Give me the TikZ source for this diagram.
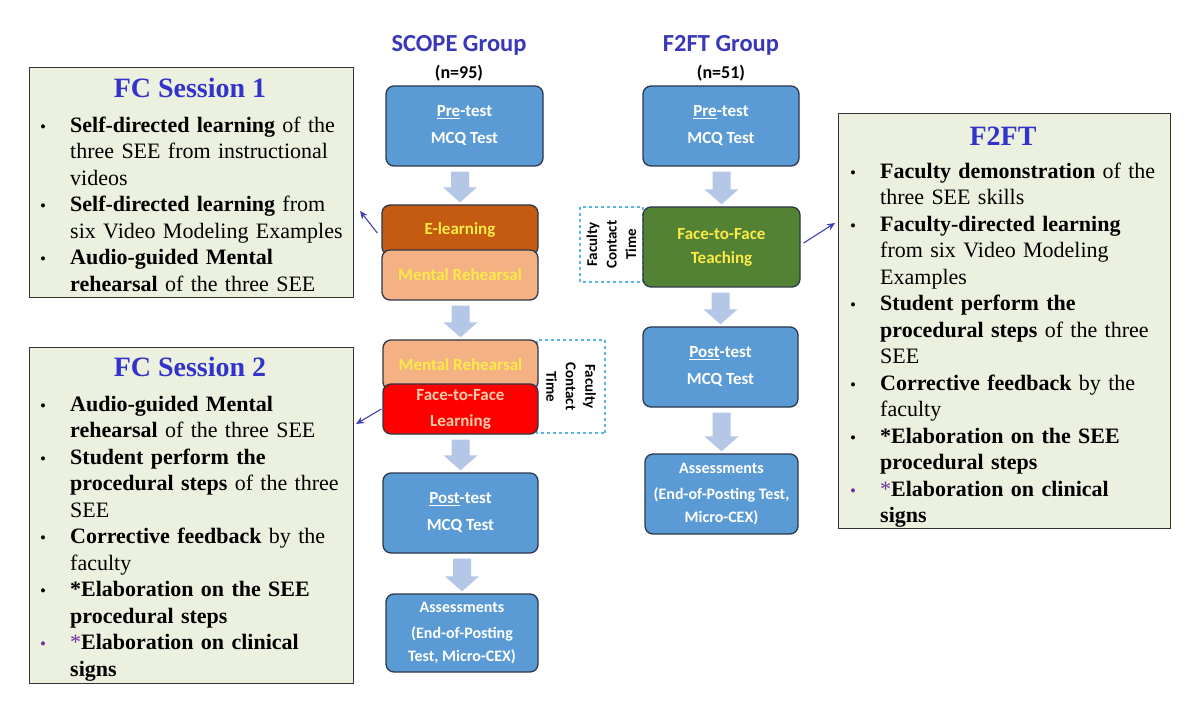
\documentclass[tikz,border=0pt]{standalone}
\usepackage{fontspec}
\setmainfont{Liberation Serif}
\newfontfamily\calfont{Carlito}
\usetikzlibrary{calc,arrows.meta}
\definecolor{boxblue}{RGB}{91,155,213}
\definecolor{boxedge}{RGB}{45,55,75}
\definecolor{arrowblue}{RGB}{180,199,231}
\definecolor{elearn}{RGB}{197,90,17}
\definecolor{peach}{RGB}{244,177,131}
\definecolor{ffred}{RGB}{255,0,0}
\definecolor{ffgreen}{RGB}{84,130,53}
\definecolor{listgreen}{RGB}{235,241,222}
\definecolor{titleblue}{RGB}{51,51,204}
\definecolor{grouptitle}{RGB}{56,56,184}
\definecolor{dashblue}{RGB}{91,180,230}
\definecolor{connblue}{RGB}{64,64,184}
\definecolor{txtyellow}{RGB}{250,235,70}
\definecolor{txtpeach}{RGB}{250,205,170}
\definecolor{purp}{RGB}{112,48,160}
\newcommand\bitem[2][black]{\par\noindent\hangindent=31pt\hangafter=1\makebox[31pt][l]{\hspace{1pt}\textcolor{#1}{\fontsize{17}{17}\selectfont\textbullet}}#2}
\newcommand\blockarrow[2]{\fill[arrowblue] let \p1=(#1.south), \p2=(#2.north) in
  (\x2-9pt,\y1-5pt) -- (\x2+9pt,\y1-5pt) -- (\x2+9pt,\y2+17pt) -- (\x2+17pt,\y2+17pt)
  -- (\x2,\y2+2pt) -- (\x2-17pt,\y2+17pt) -- (\x2-9pt,\y2+17pt) -- cycle;}
\tikzset{
  flowbox/.style={draw=boxedge, line width=1.3pt, rounded corners=8pt, inner sep=0pt,
    align=center, text=white, fill=boxblue, minimum width=156pt, minimum height=80pt,
    font=\calfont\bfseries\fontsize{17}{27}\selectfont},
  layerbox/.style={flowbox, minimum height=50pt, text=txtyellow},
  assbox/.style={flowbox, font=\calfont\bfseries\fontsize{16}{23}\selectfont},
  dashbox/.style={draw=dashblue, dashed, line width=1.2pt, inner sep=0pt, align=center,
    font=\calfont\bfseries\fontsize{15}{19.5}\selectfont},
  grouptitle/.style={anchor=base, text=grouptitle, font=\calfont\bfseries\fontsize{24.5}{28}\selectfont},
  groupn/.style={anchor=base, font=\calfont\bfseries\fontsize{18}{22}\selectfont},
  listbox/.style={draw=black!80, line width=1.4pt, fill=listgreen, inner sep=0pt, anchor=north west},
  listtitle/.style={anchor=base, text=titleblue, font=\bfseries\fontsize{28}{32}\selectfont},
  listbody/.style={anchor=north west, inner sep=0pt, text width=320pt, align=left,
    font=\fontsize{22}{26.5}\selectfont},
  conn/.style={-{Stealth[length=8pt,width=7pt]}, draw=connblue, line width=1.1pt}
}
\begin{document}
\begin{tikzpicture}[x=1pt,y=-1pt]
\useasboundingbox (0,0) rectangle (1200,711);
\fill[white] (0,0) rectangle (1200,711);

% group titles
\node[grouptitle] (sg) at (459,52) {SCOPE Group};
\node[groupn] (sn) at (459,79) {(n=95)};
\node[grouptitle] (fg) at (721,52) {F2FT Group};
\node[groupn] (fn) at (721,79) {(n=51)};

% dashed faculty contact boxes
\node[dashbox, rotate=-90, minimum width=93pt, minimum height=68pt] (sdash) at (571,386.5) {Faculty\\Contact\\Time};
\node[dashbox, rotate=90, minimum width=75pt, minimum height=63pt] (fdash) at (611.5,244.5) {Faculty\\Contact\\Time};

% SCOPE column
\node[flowbox, minimum width=157pt] (spre) at (464.5,126) {\underline{Pre}-test\\MCQ Test};
\node[layerbox, fill=elearn] (el) at (460,230) {E-learning};
\node[layerbox, fill=peach] (mr1) at (460,275) {Mental Rehearsal};
\node[layerbox, fill=peach, minimum width=155pt] (mr2) at (460.5,365) {Mental Rehearsal};
\node[layerbox, fill=ffred, minimum width=155pt, text=txtpeach, font=\calfont\bfseries\fontsize{17}{26}\selectfont] (ffl) at (460.5,409) {Face-to-Face\\Learning};
\node[flowbox, minimum width=155pt] (spost) at (460.5,513) {\underline{Post}-test\\MCQ Test};
\node[assbox, minimum width=152pt, minimum height=78pt] (sass) at (462,633) {Assessments\\[3pt](End-of-Posting\\Test, Micro-CEX)};

% F2FT column
\node[flowbox] (fpre) at (721,126) {\underline{Pre}-test\\MCQ Test};
\node[flowbox, fill=ffgreen, minimum width=157pt, text=txtyellow, font=\calfont\bfseries\fontsize{17}{24}\selectfont] (ftt) at (721.5,247) {Face-to-Face\\Teaching};
\node[flowbox, minimum width=155pt] (fpost) at (720.5,367) {\underline{Post}-test\\MCQ Test};
\node[assbox, minimum width=153pt] (fass) at (721.5,494) {Assessments\\[3pt](End-of-Posting Test,\\Micro-CEX)};

% block arrows
\blockarrow{spre}{el}
\blockarrow{mr1}{mr2}
\blockarrow{ffl}{spost}
\blockarrow{spost}{sass}
\blockarrow{fpre}{ftt}
\blockarrow{ftt}{fpost}
\blockarrow{fpost}{fass}

% list boxes
\node[listbox, minimum width=324pt, minimum height=230pt] (fc1) at (29,67) {};
\node[listtitle] (fc1t) at (190,98) {FC Session 1};
\node[listbody] (fc1b) at (39,105.5) {%
\bitem{\strut\textbf{Self-directed learning} of the\newline three SEE from instructional\newline videos}
\bitem{\textbf{Self-directed learning} from\newline six Video Modeling Examples}
\bitem{\textbf{Audio-guided Mental\newline rehearsal} of the three SEE}\par};

\node[listbox, minimum width=324pt, minimum height=336pt] (fc2) at (29,347) {};
\node[listtitle] (fc2t) at (190,377) {FC Session 2};
\node[listbody] (fc2b) at (39,384.5) {%
\bitem{\strut\textbf{Audio-guided Mental\newline rehearsal} of the three SEE}
\bitem{\textbf{Student perform the\newline procedural steps} of the three\newline SEE}
\bitem{\textbf{Corrective feedback} by the\newline faculty}
\bitem{\textbf{*Elaboration on the SEE\newline procedural steps}}
\bitem[purp]{\textcolor{purp}{*}\textbf{Elaboration on clinical\newline signs}}\par};

\node[listbox, minimum width=332pt, minimum height=415pt] (f2b) at (838,113) {};
\node[listtitle] (f2t) at (1003,146) {F2FT};
\node[listbody] (f2bb) at (849,151.5) {%
\bitem{\strut\textbf{Faculty demonstration} of the\newline three SEE skills}
\bitem{\textbf{Faculty-directed learning}\newline from six Video Modeling\newline Examples}
\bitem{\textbf{Student perform the\newline procedural steps} of the three\newline SEE}
\bitem{\textbf{Corrective feedback} by the\newline faculty}
\bitem{\textbf{*Elaboration on the SEE\newline procedural steps}}
\bitem[purp]{\textcolor{purp}{*}\textbf{Elaboration on clinical\newline signs}}\par};

% connectors
\coordinate (c1) at (360,211);
\coordinate (c2) at (356,424);
\coordinate (c3) at (835,223);
\draw[conn] ([shift={(-4,3)}]el.west) -- (c1);
\draw[conn] ([xshift=-1pt]ffl.west) -- (c2);
\draw[conn] ([shift={(3,-4)}]ftt.east) -- (c3);
\end{tikzpicture}
\end{document}
